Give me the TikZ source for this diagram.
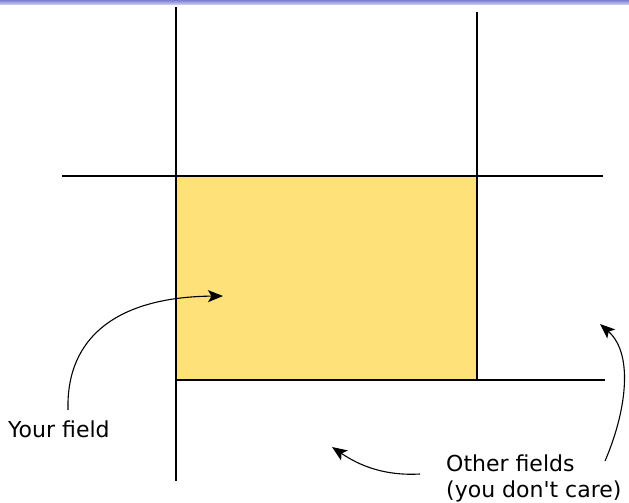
\documentclass[tikz,border=0pt]{standalone}
\usepackage{fontspec}
\setmainfont{DejaVu Sans}
\usetikzlibrary{arrows.meta}
\definecolor{fieldyellow}{RGB}{255,225,122}
\definecolor{bandtop}{RGB}{125,125,210}
\definecolor{bandbot}{RGB}{215,215,245}
\begin{document}
\begin{tikzpicture}[x=1pt,y=-1pt,
  gridline/.style={line width=1.1pt, black},
  pointer/.style={line width=1.1pt, -{Stealth[length=15pt,width=12pt,inset=3.5pt]}},
  lbl/.style={font=\fontsize{22}{26}\selectfont, inner sep=0pt, anchor=base west}]
\useasboundingbox (0,0) rectangle (629,503);
\shade[top color=bandtop, bottom color=bandbot] (0,0) rectangle (629,5);
% the field
\node (field) [draw=gray!60, line width=0.8pt, fill=fieldyellow, minimum width=301pt, minimum height=204pt, inner sep=0pt, anchor=north west] at (176,176) {};
% grid lines
\coordinate (lt) at (176,7);
\coordinate (lb) at (176,481);
\coordinate (rt) at (477,12);
\coordinate (rb) at (477,380);
\coordinate (hl) at (62,176);
\coordinate (hr) at (603,176);
\coordinate (bl) at (176,380);
\coordinate (br) at (605,380);
\draw[gridline] (lt) -- (lb);
\draw[gridline] (rt) -- (rb);
\draw[gridline] (hl) -- (hr);
\draw[gridline] (bl) -- (br);
% labels
\node[lbl] (your) at (8,437) {Your field};
\node[lbl] (other) at (446,471) {Other fields};
\node[lbl] (care) at (446,497) {(you don\textquotesingle t care)};
% arrows
\coordinate (s1) at (68,410);
\coordinate (t1) at (223,296);
\coordinate (s2) at (420,474);
\coordinate (t2) at (332,447);
\coordinate (s3) at (605,461);
\coordinate (t3) at (600,324);
\draw[pointer] (s1) .. controls (66,335) and (120,297) .. (t1);
\draw[pointer] (s2) .. controls (385,476) and (360,466) .. (t2);
\draw[pointer] (s3) .. controls (625,415) and (635,355) .. (t3);
\end{tikzpicture}
\end{document}
